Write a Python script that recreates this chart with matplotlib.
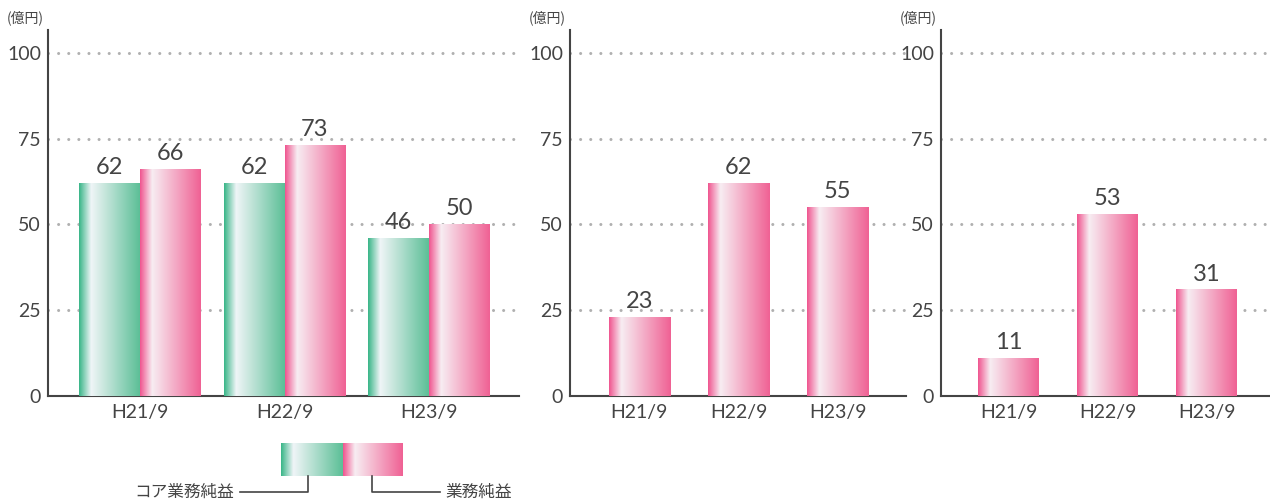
import numpy as np
import matplotlib.pyplot as plt
from matplotlib.colors import LinearSegmentedColormap

plt.rcParams['font.family'] = ['Noto Sans CJK JP', 'DejaVu Sans']

# data
periods = ['H21/9', 'H22/9', 'H23/9']
core_profit = [62, 62, 46]      # コア業務純益
net_profit = [66, 73, 50]       # 業務純益
panel2_values = [23, 62, 55]
panel3_values = [11, 53, 31]
yticks = [0, 25, 50, 75, 100]
unit_label = '(億円)'
legend_labels = ['コア業務純益', '業務純益']

text_col = '#444444'
num_font = ['Lato', 'Noto Sans CJK JP', 'DejaVu Sans']
green_cmap = LinearSegmentedColormap.from_list(
    'g', [(0, (0.22, 0.71, 0.53)), (0.2, (0.94, 0.96, 0.97)), (1, (0.36, 0.75, 0.59))])
pink_cmap = LinearSegmentedColormap.from_list(
    'p', [(0, (0.94, 0.33, 0.56)), (0.2, (0.97, 0.93, 0.95)), (1, (0.94, 0.38, 0.58))])
grad = np.linspace(0, 1, 256).reshape(1, -1)


def grad_bar(ax, x0, x1, h, cmap):
    ax.imshow(grad, extent=[x0, x1, 0, h], aspect='auto', cmap=cmap,
              interpolation='bilinear', zorder=3)


def style_axes(ax, xlim):
    ax.set_xlim(xlim)
    ax.set_ylim(0, 106.7)
    for s in ['top', 'right']:
        ax.spines[s].set_visible(False)
    for s in ['left', 'bottom']:
        ax.spines[s].set_color(text_col)
        ax.spines[s].set_linewidth(1.5)
    ax.set_yticks(yticks)
    ax.set_xticks(range(len(periods)))
    ax.set_xticklabels(periods)
    ax.tick_params(length=0, colors=text_col)
    ax.tick_params(axis='y', pad=5)
    ax.tick_params(axis='x', pad=6)
    for t in ax.get_yticklabels() + ax.get_xticklabels():
        t.set_family(num_font)
        t.set_fontsize(14)
    for y in yticks[1:]:
        ax.axhline(y, color='#b0b0b0', lw=2.2, linestyle=(0, (0.01, 3.3)),
                   dash_capstyle='round', zorder=1)
    ax.annotate(unit_label, xy=(0, 1), xycoords='axes fraction', xytext=(-3, 9),
                textcoords='offset points', ha='right', va='center',
                fontsize=10, color=text_col)


def label(ax, x, v):
    ax.text(x, v + 1.5, str(v), ha='center', va='bottom', fontsize=17,
            color=text_col, family=num_font)


fig = plt.figure(figsize=(12.7, 4.99), dpi=100)
H = 366 / 499
B = 103 / 499

# panel 1: two series
ax1 = fig.add_axes([48 / 1270, B, 471 / 1270, H])
w = 0.42
for i in range(len(periods)):
    grad_bar(ax1, i - w, i, core_profit[i], green_cmap)
    grad_bar(ax1, i, i + w, net_profit[i], pink_cmap)
    label(ax1, i - w / 2, core_profit[i])
    label(ax1, i + w / 2, net_profit[i])
style_axes(ax1, (-0.637, 2.623))

# panel 2
ax2 = fig.add_axes([570 / 1270, B, 336 / 1270, H])
w = 0.616
for i, v in enumerate(panel2_values):
    grad_bar(ax2, i - w / 2, i + w / 2, v, pink_cmap)
    label(ax2, i, v)
style_axes(ax2, (-0.70, 2.69))

# panel 3
ax3 = fig.add_axes([941 / 1270, B, 329 / 1270, H])
for i, v in enumerate(panel3_values):
    grad_bar(ax3, i - w / 2, i + w / 2, v, pink_cmap)
    label(ax3, i, v)
style_axes(ax3, (-0.687, 2.64))

# legend (pixel coordinates overlay)
lg = fig.add_axes([0, 0, 1, 1], zorder=-1)
lg.axis('off')
lg.imshow(grad, extent=[281, 343, 476, 443], aspect='auto', cmap=green_cmap, interpolation='bilinear')
lg.imshow(grad, extent=[343, 403, 476, 443], aspect='auto', cmap=pink_cmap, interpolation='bilinear')
lg.set_xlim(0, 1270)
lg.set_ylim(499, 0)
lg.plot([308, 308, 240], [476, 492, 492], color=text_col, lw=1.2)
lg.plot([372, 372, 440], [476, 492, 492], color=text_col, lw=1.2)
lg.text(234, 492, legend_labels[0], ha='right', va='center', fontsize=12, color=text_col)
lg.text(445, 492, legend_labels[1], ha='left', va='center', fontsize=12, color=text_col)

fig.savefig('out.png', dpi=100)
